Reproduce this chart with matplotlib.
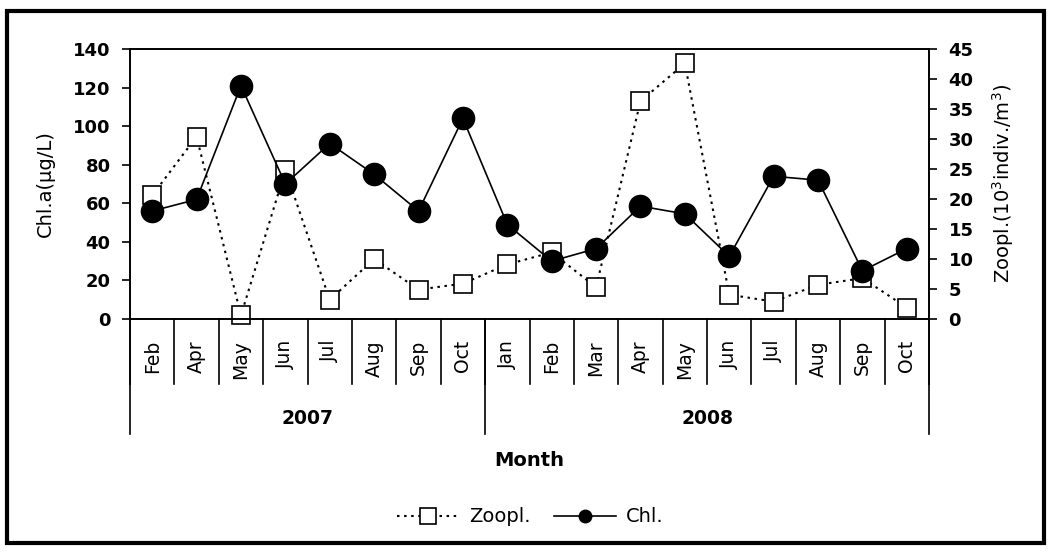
import matplotlib
matplotlib.use("Agg")
import matplotlib.pyplot as plt
from matplotlib.lines import Line2D
from matplotlib.patches import Rectangle
import matplotlib.transforms as mtransforms

plt.rcParams['font.family'] = ['DejaVu Sans']

months = ["Feb", "Apr", "May", "Jun", "Jul", "Aug", "Sep", "Oct",
          "Jan", "Feb", "Mar", "Apr", "May", "Jun", "Jul", "Aug", "Sep", "Oct"]
years = ["2007", "2008"]
year_counts = [8, 10]
chl = [56, 62, 121, 70, 91, 75, 56, 104,
       49, 30, 36.5, 58.5, 54.5, 32.5, 74, 72, 25, 36.5]
zoopl = [20.6, 30.4, 0.6, 24.8, 3.2, 10.0, 4.9, 5.9,
         9.1, 11.1, 5.3, 36.3, 42.6, 4.05, 2.9, 5.7, 6.8, 1.9]
chl_ticks = [0, 20, 40, 60, 80, 100, 120, 140]
zoopl_ticks = [0, 5, 10, 15, 20, 25, 30, 35, 40, 45]

W, H = 1060, 555
fig = plt.figure(figsize=(W / 100, H / 100), dpi=100)
left, right, top, bottom = 130, 929, 49, 319
ax = fig.add_axes([left / W, 1 - bottom / H, (right - left) / W, (bottom - top) / H])
ax2 = ax.twinx()
ax.set_zorder(ax2.get_zorder() + 1)
ax.patch.set_visible(False)

x = list(range(len(months)))

ax2.plot(x, zoopl, color='black', lw=1.5, linestyle=(0, (1.2, 2.2)),
         marker='s', markersize=13.5, markerfacecolor='white',
         markeredgecolor='black', markeredgewidth=1.2, clip_on=False)
ax.plot(x, chl, color='black', lw=1.2, linestyle='-',
        marker='o', markersize=16, markerfacecolor='black',
        markeredgecolor='black', clip_on=False)

ax.set_xlim(-0.5, len(months) - 0.5)
ax.set_ylim(0, 140)
ax2.set_ylim(0, 45)
ax.set_yticks(chl_ticks)
ax2.set_yticks(zoopl_ticks)
ax.set_xticks([])
ax2.set_xticks([])

for a in (ax, ax2):
    for s in a.spines.values():
        s.set_linewidth(1.2)
        s.set_color('black')
ax.tick_params(axis='y', direction='out', length=6, width=1.2, pad=8,
               labelsize=13)
ax2.tick_params(axis='y', direction='out', length=6, width=1.2, pad=8,
                labelsize=13)
for lab in ax.get_yticklabels() + ax2.get_yticklabels():
    lab.set_fontweight('bold')

trans = ax.get_xaxis_transform()
h = bottom - top
month_sep = -(384 - bottom) / h
year_sep = -(434 - bottom) / h
# month separators
for i in range(len(months) + 1):
    ax.plot([i - 0.5, i - 0.5], [0, month_sep], color='black', lw=1.2,
            transform=trans, clip_on=False)
# year separators
pos = 0
bounds = [0]
for c in year_counts:
    pos += c
    bounds.append(pos)
for b in bounds:
    ax.plot([b - 0.5, b - 0.5], [0, year_sep], color='black', lw=1.2,
            transform=trans, clip_on=False)
# month labels
for i, m in enumerate(months):
    ax.text(i, -(340 - bottom) / h, m, rotation=90, ha='center', va='top',
            fontsize=13.5, transform=trans)
# year labels
for k, yname in enumerate(years):
    cx = (bounds[k] + bounds[k + 1]) / 2 - 0.5
    ax.text(cx, -(418 - bottom) / h, yname, ha='center', va='center',
            fontsize=13.5, fontweight='bold', transform=trans)

fig.text((left + right) / 2 / W, 1 - 460 / H, "Month", ha='center', va='center',
         fontsize=14, fontweight='bold')
fig.text(45 / W, 1 - 184 / H, "Chl.a(μg/L)", rotation=90, ha='center',
         va='center', fontsize=14)
fig.text(1003 / W, 1 - 183 / H, r"Zoopl.(10$^3$indiv./m$^3$)", rotation=90,
         ha='center', va='center', fontsize=14)

handles = [
    Line2D([], [], color='black', lw=1.5, linestyle=(0, (1.2, 2.2)), marker='s',
           markersize=11, markerfacecolor='white', markeredgecolor='black',
           markeredgewidth=1.2),
    Line2D([], [], color='black', lw=1.2, linestyle='-', marker='o',
           markersize=9, markerfacecolor='black', markeredgecolor='black'),
]
fig.legend(handles, ["Zoopl.", "Chl."], loc='center',
           bbox_to_anchor=(530 / W, 1 - 517 / H), ncol=2, frameon=False,
           fontsize=14, handlelength=3.2, columnspacing=1.2, handletextpad=0.5)

fig.patches.append(Rectangle((6.5 / W, 1 - 543 / H), (1044 - 6.5) / W, (543 - 10.5) / H,
                             transform=fig.transFigure, fill=False, lw=3,
                             edgecolor='black'))

fig.savefig("out.png", dpi=100)
